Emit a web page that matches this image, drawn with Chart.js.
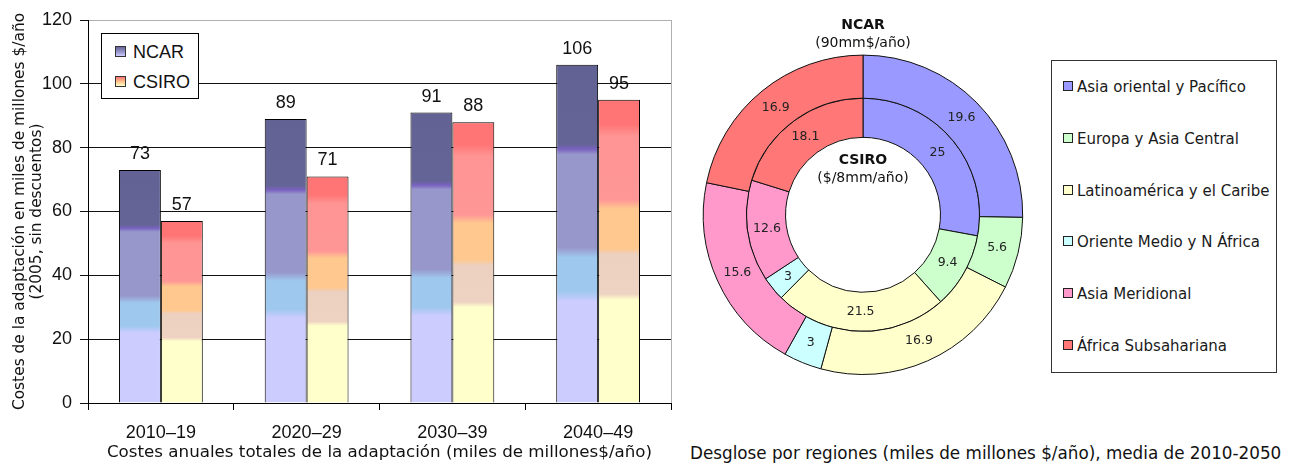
<!DOCTYPE html>
<html>
<head>
<meta charset="utf-8">
<script src="https://cdn.jsdelivr.net/npm/chart.js@4.4.1/dist/chart.umd.min.js"></script>
<style>
    html, body { margin: 0; padding: 0; background: #fff; }
    body { width: 1289px; height: 463px; position: relative; overflow: hidden; font-family: "DejaVu Sans", sans-serif; color: #111; }
    #barWrap { position: absolute; left: 0; top: 0; width: 680px; height: 463px; }
    #pieWrap { position: absolute; left: 700px; top: 0; width: 326px; height: 375px; }
    #barLegend {
        position: absolute; left: 101px; top: 33px; width: 96px; height: 64px;
        border: 1px solid #000; background: #fff; font: 18px "Liberation Sans", Arial, sans-serif;
    }
    #barLegend .item { position: absolute; left: 13px; height: 20px; line-height: 20px; }
    #barLegend .sw { display: inline-block; width: 9px; height: 9px; border: 1px solid #333; margin-right: 7px; vertical-align: 1px; }
    #regionLegend {
        position: absolute; left: 1051px; top: 60px; width: 224px; height: 311px;
        border: 1px solid #333; background: #fff; font: 15px "DejaVu Sans", sans-serif; color: #1a1a1a;
    }
    #regionLegend .item { position: absolute; left: 11px; height: 20px; line-height: 20px; white-space: nowrap; }
    #regionLegend .sw { display: inline-block; width: 8px; height: 8px; border: 1px solid #222; margin-right: 4px; vertical-align: 1px; }
    #pieCaption { position: absolute; left: 690px; top: 443px; font: 16.8px "DejaVu Sans", sans-serif; line-height: 20px; white-space: nowrap; color: #111; }
</style>
</head>
<body>
<div id="barWrap"><canvas id="costChart" width="680" height="463"></canvas></div>
<div id="barLegend"></div>
<div id="pieWrap"><canvas id="regionChart" width="326" height="375"></canvas></div>
<div id="regionLegend"></div>
<div id="pieCaption">Desglose por regiones (miles de millones $/año), media de 2010-2050</div>

<script>
    const categories = ['2010–19', '2020–29', '2030–39', '2040–49'];
    const ncarTotals = [73, 89, 91, 106];
    const csiroTotals = [57, 71, 88, 95];
    const seriesNames = ['NCAR', 'CSIRO'];

    const regions = ['Asia oriental y Pacífico', 'Europa y Asia Central', 'Latinoamérica y el Caribe',
        'Oriente Medio y N África', 'Asia Meridional', 'África Subsahariana'];
    const ncarRegional = [19.6, 5.6, 16.9, 3, 15.6, 16.9];
    const csiroRegional = [25, 9.4, 21.5, 3, 12.6, 18.1];
    const regionColors = ['#9999ff', '#ccffcc', '#ffffcc', '#ccffff', '#ff99cc', '#ff7777'];

    // colour bands of the bars, bottom (0) to top (1)
    const ncarStops = [[0, '#ccccff'], [0.30, '#ccccff'], [0.33, '#9fc8ee'], [0.43, '#9fc8ee'], [0.46, '#9797cc'],
        [0.735, '#9797cc'], [0.75, '#7a62c0'], [0.765, '#646496'], [1, '#626294']];
    const csiroStops = [[0, '#ffffcc'], [0.34, '#ffffcc'], [0.36, '#eed2c2'], [0.49, '#ecd0c0'], [0.51, '#ffc88e'],
        [0.64, '#ffc88e'], [0.67, '#ff9797'], [0.88, '#ff9494'], [0.92, '#ff7474'], [1, '#ff7474']];

    function barGradient(stops, fallback) {
        return function (context) {
            const chart = context.chart;
            if (context.type !== 'data' || !chart.chartArea) return fallback;
            const y = chart.scales.y;
            const y0 = y.getPixelForValue(0);
            const y1 = y.getPixelForValue(context.raw);
            const g = chart.ctx.createLinearGradient(0, y0, 0, y1);
            stops.forEach(s => g.addColorStop(s[0], s[1]));
            return g;
        };
    }

    const barLabels = {
        id: 'barLabels',
        afterDatasetsDraw(chart) {
            const ctx = chart.ctx;
            ctx.save();
            ctx.font = '18px "Liberation Sans", Arial, sans-serif';
            ctx.fillStyle = '#111';
            ctx.textAlign = 'center';
            ctx.textBaseline = 'middle';
            chart.data.datasets.forEach((ds, i) => {
                chart.getDatasetMeta(i).data.forEach((bar, j) => {
                    ctx.fillText(String(ds.data[j]), bar.x, bar.y - 16);
                });
            });
            // grey frame on the right side
            const a = chart.chartArea;
            ctx.strokeStyle = '#b0b0b0';
            ctx.lineWidth = 1;
            ctx.beginPath();
            ctx.moveTo(Math.round(a.right) + 0.5, a.top);
            ctx.lineTo(Math.round(a.right) + 0.5, a.bottom);
            ctx.stroke();
            ctx.restore();
        }
    };

    new Chart(document.getElementById('costChart'), {
        type: 'bar',
        data: {
            labels: categories,
            datasets: [
                {
                    label: seriesNames[0],
                    data: ncarTotals,
                    backgroundColor: barGradient(ncarStops, '#9797cc'),
                    borderColor: '#000',
                    borderWidth: 1,
                    barPercentage: 1,
                    categoryPercentage: 0.575
                },
                {
                    label: seriesNames[1],
                    data: csiroTotals,
                    backgroundColor: barGradient(csiroStops, '#ffc88e'),
                    borderColor: '#000',
                    borderWidth: 1,
                    barPercentage: 1,
                    categoryPercentage: 0.575
                }
            ]
        },
        options: {
            responsive: false,
            animation: false,
            layout: {padding: {top: 20, right: 9}},
            plugins: {legend: {display: false}, tooltip: {enabled: false}},
            scales: {
                x: {
                    grid: {offset: true, drawOnChartArea: false, tickLength: 7, color: '#000'},
                    border: {color: '#000'},
                    ticks: {font: {family: 'Liberation Sans', size: 18}, color: '#111', padding: 12},
                    title: {
                        display: true,
                        text: 'Costes anuales totales de la adaptación (miles de millones$/año)',
                        font: {family: 'DejaVu Sans', size: 16.7, lineHeight: 1.1},
                        color: '#111',
                        padding: {top: 0, bottom: 1}
                    },
                    afterFit: scale => { scale.height = 60; }
                },
                y: {
                    min: 0,
                    max: 120,
                    ticks: {stepSize: 20, font: {family: 'Liberation Sans', size: 18}, color: '#111', padding: 8},
                    grid: {
                        color: c => (c.tick && c.tick.value === 120 ? '#b0b0b0' : '#111'),
                        tickColor: '#111',
                        tickLength: 8
                    },
                    border: {color: '#000'},
                    title: {
                        display: true,
                        text: ['Costes de la adaptación en miles de millones $/año', '(2005, sin descuentos)'],
                        font: {family: 'DejaVu Sans', size: 15.4, lineHeight: 1.1},
                        color: '#111',
                        padding: {top: 11.5, bottom: 0}
                    },
                    afterFit: scale => { scale.width = 88; }
                }
            }
        },
        plugins: [barLabels]
    });

    const ringLabels = {
        id: 'ringLabels',
        afterDatasetsDraw(chart) {
            const ctx = chart.ctx;
            ctx.save();
            ctx.font = '12.5px "DejaVu Sans", sans-serif';
            ctx.fillStyle = '#222';
            ctx.textAlign = 'center';
            ctx.textBaseline = 'middle';
            let cx = 0, cy = 0;
            chart.data.datasets.forEach((ds, i) => {
                chart.getDatasetMeta(i).data.forEach((arc, j) => {
                    const p = arc.getProps(['x', 'y', 'startAngle', 'endAngle', 'innerRadius', 'outerRadius']);
                    const ang = (p.startAngle + p.endAngle) / 2;
                    const r = (p.innerRadius + p.outerRadius) / 2;
                    ctx.fillText(String(ds.data[j]), p.x + Math.cos(ang) * r, p.y + Math.sin(ang) * r);
                    cx = p.x; cy = p.y;
                });
            });
            ctx.fillStyle = '#111';
            ctx.font = 'bold 14px "DejaVu Sans", sans-serif';
            ctx.fillText(seriesNames[1], cx, cy - 54);
            ctx.font = '14px "DejaVu Sans", sans-serif';
            ctx.fillText('($/8mm/año)', cx, cy - 36);
            ctx.restore();
        }
    };

    new Chart(document.getElementById('regionChart'), {
        type: 'doughnut',
        data: {
            labels: regions,
            datasets: [
                {label: seriesNames[0], data: ncarRegional, backgroundColor: regionColors, borderColor: '#111', borderWidth: 1, weight: 43},
                {label: seriesNames[1], data: csiroRegional, backgroundColor: regionColors, borderColor: '#111', borderWidth: 1, weight: 39}
            ]
        },
        options: {
            responsive: false,
            animation: false,
            cutout: '48.5%',
            layout: {padding: 0},
            plugins: {
                legend: {display: false},
                tooltip: {enabled: false},
                title: {
                    display: true,
                    text: seriesNames[0],
                    font: {family: 'DejaVu Sans', size: 14, weight: 'bold'},
                    color: '#111',
                    padding: {top: 17, bottom: 0}
                },
                subtitle: {
                    display: true,
                    text: '(90mm$/año)',
                    font: {family: 'DejaVu Sans', size: 14},
                    color: '#111',
                    padding: {top: 1, bottom: 3}
                }
            }
        },
        plugins: [ringLabels]
    });

    // legends
    const barLegend = document.getElementById('barLegend');
    const swatchGradients = ['linear-gradient(#646496, #9797cc 55%, #ccccff)', 'linear-gradient(#ff7474, #ffc88e 55%, #ffffcc)'];
    seriesNames.forEach((name, i) => {
        const el = document.createElement('div');
        el.className = 'item';
        el.style.top = (8 + i * 30) + 'px';
        el.innerHTML = '<span class="sw" style="background:' + swatchGradients[i] + '"></span>' + name;
        barLegend.appendChild(el);
    });

    const regionLegend = document.getElementById('regionLegend');
    regions.forEach((name, i) => {
        const el = document.createElement('div');
        el.className = 'item';
        el.style.top = (16 + i * 51.8) + 'px';
        el.innerHTML = '<span class="sw" style="background:' + regionColors[i] + '"></span>' + name;
        regionLegend.appendChild(el);
    });
</script>
</body>
</html>
